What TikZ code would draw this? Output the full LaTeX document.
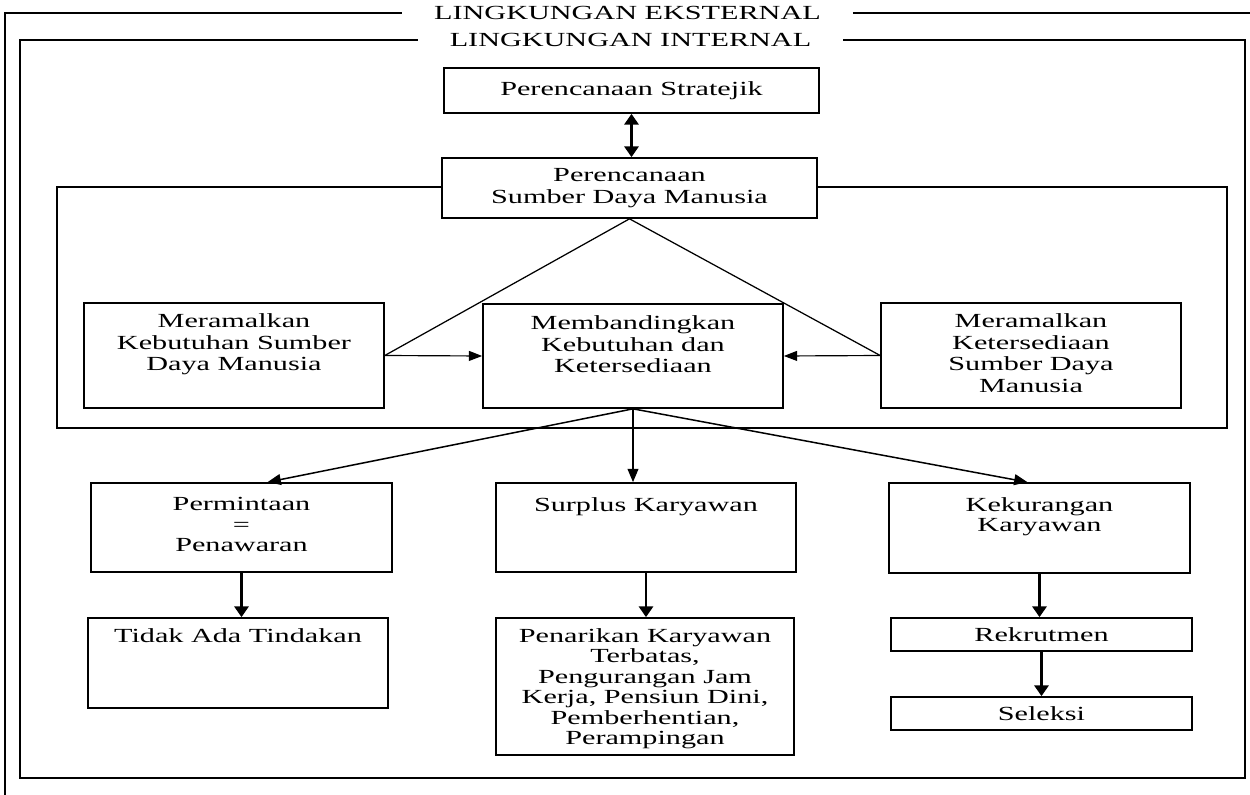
\documentclass[tikz,border=0pt]{standalone}
\usepackage{fontspec}
\setmainfont{Liberation Serif}[FakeStretch=1.51]
\usetikzlibrary{arrows.meta,calc}

\begin{document}
\begin{tikzpicture}[x=0.6pt,y=-0.6pt,
    frame/.style = {line width=0.75pt},
    box/.style = {draw,line width=1pt,fill=white,inner sep=0pt,
                  align=center,font=\fontsize{12}{13}\selectfont},
    boxtext/.style = {inner sep=0pt,anchor=north,align=center,
                  execute at begin node=\strut},
    midfont/.style = {font=\fontsize{12}{13}\selectfont},
    lowfont/.style = {font=\fontsize{12}{12.3}\selectfont},
    title/.style = {inner xsep=19pt,inner ysep=0pt,font=\fontsize{12}{13}\selectfont},
    thinarrow/.style = {line width=0.7pt,-{Triangle[length=8pt,width=6pt]}},
    fanarrow/.style = {line width=0.9pt,-{Triangle[length=8pt,width=6.5pt]}},
    bigarrow/.style = {line width=1.7pt,-{Triangle[length=6.5pt,width=8.5pt]}}]
    \useasboundingbox (0,0) rectangle (1250,795);

    \node[title] (ext) at (627.5,13) {LINGKUNGAN EKSTERNAL};
    \node[title] (int) at (630.5,40) {LINGKUNGAN INTERNAL};
    \draw[frame] (5,795) -- (5,13) -- (ext.west);
    \draw[frame] (ext.east) -- (1250,13);
    \draw[frame] (int.west) -- (20,40) -- (20,778) -- (1245,778) -- (1245,40) -- (int.east);

    \draw[frame] (57,187) rectangle (1227,428);

    \node[box,minimum width=225pt,minimum height=27pt] (strat) at (631.5,90.5)
        {Perencanaan Stratejik};
    \node[box,minimum width=225pt,minimum height=36pt] (psdm) at (629.5,188)
        {Perencanaan\\Sumber Daya Manusia};

    \node[box,minimum width=180pt,minimum height=63pt] (need) at (234,355.5) {};
    \node[box,minimum width=180pt,minimum height=62.4pt] (banding) at (633,356) {};
    \node[box,minimum width=180pt,minimum height=63pt] (sedia) at (1031,355.5) {};
    \node[boxtext,midfont] (need-t) at ($(need.north)+(0,11)$)
        {Meramalkan\\Kebutuhan Sumber\\Daya Manusia};
    \node[boxtext,midfont] (banding-t) at ($(banding.north)+(0,12)$)
        {Membandingkan\\Kebutuhan dan\\Ketersediaan};
    \node[boxtext,midfont] (sedia-t) at ($(sedia.north)+(0,11)$)
        {Meramalkan\\Ketersediaan\\Sumber Daya\\Manusia};

    \node[box,minimum width=180.6pt,minimum height=53.4pt] (perm) at (241.5,527.5) {};
    \node[box,minimum width=180pt,minimum height=53.4pt] (surplus) at (646,527.5) {};
    \node[box,minimum width=180.6pt,minimum height=54pt] (kurang) at (1039.5,528) {};
    \node[boxtext,lowfont] (perm-t) at ($(perm.north)+(0,15)$)
        {Permintaan\\=\\Penawaran};
    \node[boxtext,lowfont] (surplus-t) at ($(surplus.north)+(0,15)$)
        {Surplus Karyawan};
    \node[boxtext,lowfont] (kurang-t) at ($(kurang.north)+(0,15)$)
        {Kekurangan\\Karyawan};

    \node[box,minimum width=180pt,minimum height=54pt] (tidak) at (238,663) {};
    \node[box,minimum width=178.8pt,minimum height=82.2pt] (tarik) at (645,686.5) {};
    \node[boxtext,lowfont] (tidak-t) at ($(tidak.north)+(0,11)$)
        {Tidak Ada Tindakan};
    \node[boxtext,lowfont] (tarik-t) at ($(tarik.north)+(0,11)$)
        {Penarikan Karyawan\\Terbatas,\\Pengurangan Jam\\Kerja, Pensiun Dini,\\Pemberhentian,\\Perampingan};
    \node[box,minimum width=180.6pt,minimum height=19.8pt] (rekrut) at (1041.5,634.5)
        {Rekrutmen};
    \node[box,minimum width=180.6pt,minimum height=19.8pt] (seleksi) at (1041.5,713.5)
        {Seleksi};

    \draw[line width=1.7pt,{Triangle[length=6.5pt,width=8.5pt]}-{Triangle[length=6.5pt,width=8.5pt]}]
        (strat.south) -- (strat.south |- psdm.north);
    \draw[frame] (need.east) -- (psdm.south) -- (sedia.west);
    \draw[thinarrow] (need.east) -- (banding.west);
    \draw[thinarrow] (sedia.west) -- (banding.east);

    \draw[fanarrow] (banding.south) -- ($(perm.north)+(26,0)$);
    \draw[fanarrow] (banding.south) -- (banding.south |- surplus.north);
    \draw[fanarrow] (banding.south) -- ($(kurang.north)+(-12,0)$);

    \draw[bigarrow] (perm.south) -- (perm.south |- tidak.north);
    \draw[bigarrow] (surplus.south) -- (surplus.south |- tarik.north);
    \draw[bigarrow] (kurang.south) -- (kurang.south |- rekrut.north);
    \draw[bigarrow] (rekrut.south) -- (seleksi.north);
\end{tikzpicture}
\end{document}
